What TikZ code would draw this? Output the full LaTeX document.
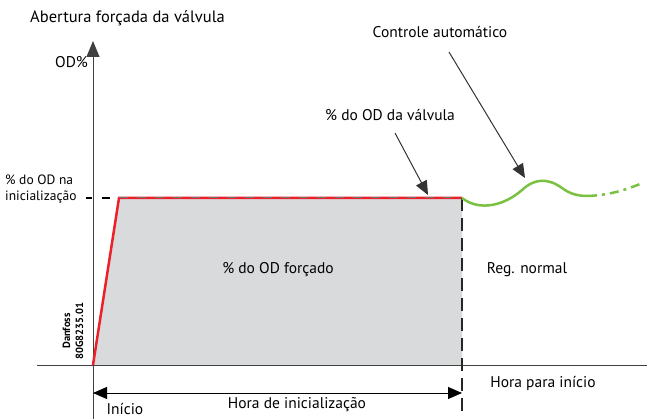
\documentclass[tikz,border=0pt]{standalone}
\usepackage{fontspec}
\setmainfont{PT Sans}
\usetikzlibrary{arrows.meta,calc}

\definecolor{fillgray}{RGB}{217,218,220}
\definecolor{valvered}{RGB}{236,32,40}
\definecolor{ctrlgreen}{RGB}{122,193,66}

\tikzset{
	lbl/.style={inner sep=0pt,font=\fontsize{15.5}{18}\selectfont},
	pointer/.style={draw=black!80,line width=1pt,-{Triangle[length=14pt,width=12pt]}},
	axis/.style={draw=black!75,line width=1pt},
}

\begin{document}
\begin{tikzpicture}[x=1pt,y=-1pt]
	\useasboundingbox (0,0) rectangle (647,419);
	% forced opening area
	\fill[fillgray] (93,365) -- (119,198) -- (462,198) -- (462,365) -- cycle;
	% axes
	\draw[axis] (37,365) -- (647,365);
	\draw[axis,-{Triangle[length=16pt,width=13pt]}] (93,419) -- (93,41);
	\draw[line width=1.5pt] (86,198) -- (92,198);
	\draw[line width=1.5pt] (102,198) -- (110,198);
	% valve curve
	\draw[valvered,line width=2.5pt] (93,365) -- (119,198) -- (462,198);
	\draw[black!55,line width=0.7pt,dash pattern=on 9pt off 9pt] (119,197) -- (462,197);
	\draw[black!85,line width=2pt,dash pattern=on 13pt off 7pt] (462,198) -- (462,412);
	% automatic control
	\draw[ctrlgreen,line width=2.5pt] (462,198) .. controls (480,212) and (505,205) .. (522,190)
		.. controls (535,178) and (548,178) .. (562,188) .. controls (570,194) and (578,196) .. (588,196);
	\draw[ctrlgreen,line width=2.5pt,dash pattern=on 9pt off 5pt on 3pt off 5pt] (588,196) .. controls (610,195) and (625,190) .. (640,184);
	% labels
	\node[lbl,anchor=west,font=\fontsize{16.5}{18}\selectfont] (title) at (30,18) {Abertura forçada da válvula};
	\node[lbl,anchor=west] (od) at (55,62) {OD\%};
	\node[lbl,align=left,anchor=west,font=\fontsize{13.5}{16}\selectfont] (init) at (5,189) {\% do OD na\\inicialização};
	\node[lbl] (forced) at (278,270) {\% do OD forçado};
	\node[lbl] (normal) at (527,270) {Reg. normal};
	\node[lbl] (start) at (543,383) {Hora para início};
	\node[lbl] (inicio) at (125,409) {Início};
	\node[lbl] (hora) at (297,405) {Hora de inicialização};
	\node[lbl] (valve) at (390,115) {\% do OD da válvula};
	\node[lbl] (auto) at (440,32) {Controle automático};
	\node[rotate=90,align=center,inner sep=0pt,font=\fontsize{10.5}{13}\bfseries\selectfont] (code) at (73,331) {Danfoss\\80G8235.01};
	% pointers
	\coordinate (valvetip) at (428,195);
	\coordinate (autotip) at (525,178);
	\draw[pointer] (395,133) -- (valvetip);
	\draw[pointer] (449,52) -- (autotip);
	% start-up time
	\draw[line width=1pt,{Triangle[length=14pt,width=12pt]}-{Triangle[length=14pt,width=12pt]}] (93,393) -- (462,393);
\end{tikzpicture}
\end{document}
